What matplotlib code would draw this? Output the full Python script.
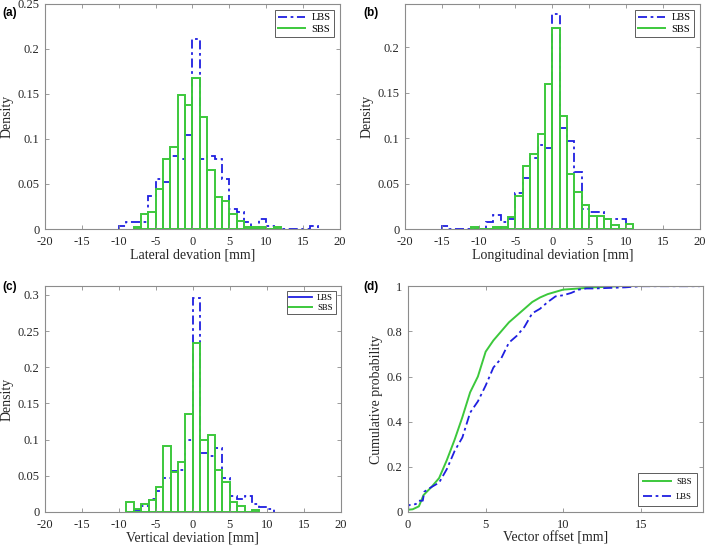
import numpy as np
import matplotlib.pyplot as plt
from matplotlib.ticker import FormatStrFormatter

plt.rcParams['font.family'] = 'Liberation Serif'
plt.rcParams['axes.unicode_minus'] = False

# (a) lateral deviation, density per 1 mm bin
lat_lbs_start = -10
lat_lbs = [0.0037, 0.0074, 0.0074, 0.0074, 0.037, 0.056, 0.052, 0.0815, 0.078, 0.104,
           0.211, 0.078, 0.0815, 0.078, 0.055, 0.022, 0.0185, 0.0074, 0.0, 0.011,
           0.0037, 0, 0, 0, 0, 0, 0.0037]
lat_sbs_start = -8
lat_sbs = [0.0026, 0.017, 0.019, 0.044, 0.0775, 0.0915, 0.149, 0.138, 0.168, 0.124,
           0.066, 0.035, 0.031, 0.017, 0.0085, 0.0026, 0.0026, 0.0026, 0, 0.0026]

# (b) longitudinal deviation
lon_lbs_start = -15
lon_lbs = [0.0037, 0, 0, 0, 0, 0, 0.0074, 0.015, 0.0074, 0.011, 0.04, 0.056, 0.078,
           0.093, 0.089, 0.237, 0.111, 0.097, 0.063, 0.022, 0.0185, 0.0185, 0.011,
           0.011, 0.011]
lon_sbs_start = -11
lon_sbs = [0.0026, 0, 0, 0.0026, 0.0026, 0.0135, 0.036, 0.069, 0.083, 0.105, 0.16,
           0.221, 0.124, 0.061, 0.041, 0.027, 0.014, 0.014, 0.011, 0.0045, 0, 0.0055]

# (c) vertical deviation
ver_lbs_start = -8
ver_lbs = [0.003, 0.008, 0.018, 0.029, 0.047, 0.056, 0.058, 0.1, 0.296, 0.081, 0.077,
           0.089, 0.047, 0.022, 0.018, 0.022, 0.011, 0.0074, 0.0037]
ver_sbs_start = -9
ver_sbs = [0.0134, 0.0046, 0.0106, 0.016, 0.035, 0.091, 0.055, 0.069, 0.135, 0.234,
           0.099, 0.107, 0.058, 0.041, 0.0134, 0.008, 0.0, 0.003]

# (d) cumulative probability of vector offset
sbs_x = [0, 0.3, 0.7, 0.85, 1.0, 1.5, 2.0, 2.5, 3.0, 3.5, 4.0, 4.5, 5.0, 5.5, 6.0, 6.5,
         7.0, 7.5, 8.0, 8.5, 9.0, 9.5, 10.0, 11.0, 12.0, 13.6]
sbs_p = [0.01, 0.012, 0.025, 0.05, 0.075, 0.11, 0.15, 0.23, 0.32, 0.42, 0.53, 0.6,
         0.71, 0.76, 0.8, 0.84, 0.87, 0.9, 0.93, 0.95, 0.965, 0.975, 0.985, 0.99,
         0.995, 1.0]
lbs_x = [0, 0.02, 0.5, 0.7, 0.95, 1.05, 1.5, 2.0, 2.5, 3.0, 3.5, 4.0, 4.5, 5.0, 5.5,
         6.0, 6.5, 7.0, 7.5, 8.0, 8.5, 9.0, 9.5, 10.0, 10.5, 11.0, 11.5, 12.0, 14.0,
         15.0, 18.8]
lbs_p = [0.0, 0.03, 0.035, 0.05, 0.05, 0.09, 0.11, 0.13, 0.19, 0.27, 0.33, 0.44, 0.49,
         0.56, 0.64, 0.68, 0.75, 0.78, 0.82, 0.88, 0.9, 0.93, 0.955, 0.96, 0.97, 0.985,
         0.99, 0.99, 0.995, 1.0, 1.0]

blue = '#1f1fe0'
green = '#3cc83c'
dashdot = (0, (5, 2, 1.5, 2))
tick_col = '#262626'
frame_col = '#8c8c8c'

fig = plt.figure(figsize=(7.09, 5.48), dpi=100)
ax_a = fig.add_axes([0.0635, 0.582, 0.416, 0.4115])
ax_b = fig.add_axes([0.571, 0.582, 0.416, 0.4115])
ax_c = fig.add_axes([0.0635, 0.0657, 0.417, 0.412])
ax_d = fig.add_axes([0.5755, 0.0657, 0.416, 0.412])


def style(ax):
    for s in ax.spines.values():
        s.set_color(frame_col)
        s.set_linewidth(0.8)
    ax.tick_params(direction='in', top=True, right=True, length=3, width=0.6,
                   color=frame_col, labelcolor=tick_col, labelsize=9)
    ax.tick_params(axis='x', pad=5)
    ax.tick_params(axis='y', pad=4)


def hist_panel(ax, lbs_start, lbs, sbs_start, sbs, ylim, yticks, xlabel, leg_fs, leg_solid=False):
    e_l = np.arange(lbs_start, lbs_start + len(lbs) + 1)
    e_s = np.arange(sbs_start, sbs_start + len(sbs) + 1)
    ax.stairs(lbs, e_l, baseline=0, color=blue, lw=1.3, linestyle=dashdot, label='LBS')
    ax.bar(e_s[:-1], sbs, width=1, align='edge', fill=False, edgecolor=green, lw=1.4,
           label='SBS')
    ax.set_xlim(-20, 20)
    ax.set_ylim(0, ylim)
    ax.set_xticks(np.arange(-20, 21, 5))
    ax.set_yticks(yticks)
    ax.yaxis.set_major_formatter(FormatStrFormatter('%g'))
    ax.set_xlabel(xlabel, fontsize=10, color=tick_col, labelpad=0.5)
    ax.set_ylabel('Density', fontsize=10, color=tick_col, labelpad=3)
    style(ax)
    h_l = plt.Line2D([], [], color=blue, lw=1.3, linestyle='-' if leg_solid else dashdot)
    h_s = plt.Line2D([], [], color=green, lw=1.4)
    leg = ax.legend([h_l, h_s], ['LBS', 'SBS'], loc='upper right', fontsize=leg_fs,
                    fancybox=False, edgecolor='#333333', handlelength=2.6,
                    borderaxespad=0.6, borderpad=0.3, labelspacing=0.2, handletextpad=0.6)
    leg.get_frame().set_linewidth(0.7)


hist_panel(ax_a, lat_lbs_start, lat_lbs, lat_sbs_start, lat_sbs, 0.25,
           [0, 0.05, 0.1, 0.15, 0.2, 0.25], 'Lateral devation [mm]', 7.5)
hist_panel(ax_b, lon_lbs_start, lon_lbs, lon_sbs_start, lon_sbs, 0.248,
           [0, 0.05, 0.1, 0.15, 0.2], 'Longitudinal deviation [mm]', 7.5)
hist_panel(ax_c, ver_lbs_start, ver_lbs, ver_sbs_start, ver_sbs, 0.312,
           [0, 0.05, 0.1, 0.15, 0.2, 0.25, 0.3], 'Vertical deviation [mm]', 6.2,
           leg_solid=True)

# cumulative panel
ax_d.plot(sbs_x, sbs_p, color=green, lw=1.4, label='SBS')
ax_d.plot(lbs_x, lbs_p, color=blue, lw=1.3, linestyle=dashdot, label='LBS')
ax_d.set_xlim(0, 19)
ax_d.set_ylim(0, 1)
ax_d.set_xticks([0, 5, 10, 15])
ax_d.set_yticks([0, 0.2, 0.4, 0.6, 0.8, 1])
ax_d.yaxis.set_major_formatter(FormatStrFormatter('%g'))
ax_d.set_xlabel('Vector offset [mm]', fontsize=10, color=tick_col, labelpad=0.5)
ax_d.set_ylabel('Cumulative probability', fontsize=10, color=tick_col, labelpad=3)
style(ax_d)
leg = ax_d.legend(loc='lower right', fontsize=6.2, fancybox=False, edgecolor='#333333',
                  handlelength=3.2, borderaxespad=0.7, borderpad=0.6, labelspacing=0.8,
                  handletextpad=0.6)
leg.get_frame().set_linewidth(0.7)

for lbl, x, y in [('(a)', 0.003, 0.987), ('(b)', 0.512, 0.987),
                  ('(c)', 0.003, 0.487), ('(d)', 0.512, 0.487)]:
    fig.text(x, y, lbl, fontsize=8.5, fontweight='bold', family='Liberation Sans',
             va='top', ha='left')

fig.savefig('out.png', dpi=100)
